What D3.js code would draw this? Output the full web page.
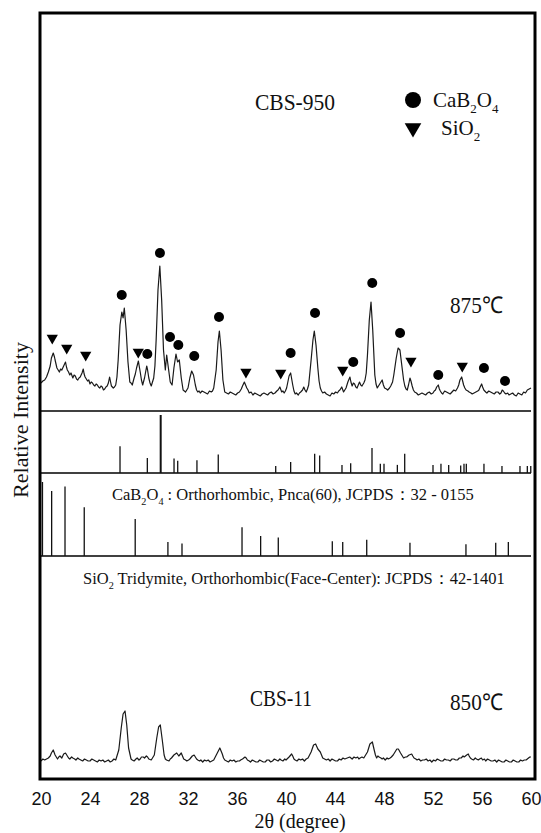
<!DOCTYPE html>
<html>
<head>
<meta charset="utf-8">
<script src="https://cdnjs.cloudflare.com/ajax/libs/d3/7.8.5/d3.min.js"></script>
<style>
  body { margin: 0; background: #fff; }
  text { fill: #111; }
  .serif { font-family: "Liberation Serif", "Times New Roman", serif; }
  .sans { font-family: "Liberation Sans", Arial, sans-serif; }
</style>
</head>
<body>
<div id="chart"></div>
<script>
// x axis ticks (2 theta, degree)
const xTicks = [20, 24, 28, 32, 36, 40, 44, 48, 52, 56, 60];

// CBS-950 fired at 875 C, [2theta, counts]
const trace875 = [
  [20.0,170],[20.15,190],[20.3,200],[20.45,230],[20.6,280],[20.75,340],[20.85,420],[21.0,470],[21.1,430],[21.15,400],[21.3,320],[21.4,300],[21.5,280],[21.6,310],[21.7,300],[21.85,340],
  [22.0,380],[22.08,330],[22.15,300],[22.25,280],[22.35,250],[22.45,270],[22.6,220],[22.7,250],[22.8,240],[22.9,210],[23.0,200],[23.1,220],[23.2,230],[23.35,270],[23.45,310],[23.52,260],[23.6,230],[23.7,210],[23.8,190],
  [23.9,200],[24.0,160],[24.1,180],[24.2,170],[24.3,150],[24.4,140],[24.5,160],[24.6,150],[24.7,130],[24.8,120],[24.9,140],[25.0,130],[25.1,100],[25.2,110],[25.3,130],[25.4,140],[25.5,170],[25.6,230],[25.68,180],[25.75,140],
  [25.9,120],[26.0,130],[26.1,150],[26.2,230],[26.3,400],[26.45,750],[26.6,880],[26.7,820],[26.8,920],[26.95,700],[27.1,380],[27.25,180],
  [27.35,170],[27.45,150],[27.6,220],[27.7,260],[27.8,320],[27.95,390],[28.03,330],[28.1,280],[28.2,200],[28.3,150],[28.45,220],[28.63,340],[28.7,300],[28.8,220],[28.9,170],[29.0,140],
  [29.2,220],[29.3,340],[29.4,600],[29.55,1100],[29.7,1340],[29.85,1000],[30.0,500],[30.15,300],[30.26,450],[30.4,320],[30.55,180],
  [30.7,150],[30.85,320],[31.02,460],[31.15,380],[31.29,400],[31.45,220],[31.6,100],[31.7,90],[31.8,80],[31.9,100],[32.0,120],[32.15,220],
  [32.3,290],[32.45,250],[32.6,150],[32.7,100],[32.8,80],[32.9,90],[33.0,70],[33.15,90],[33.3,80],[33.45,70],[33.6,60],[33.75,90],[33.9,80],[34.0,90],[34.1,120],[34.3,300],
  [34.45,580],[34.56,690],[34.7,500],[34.85,200],[35.0,80],[35.15,70],[35.3,60],[35.45,80],[35.6,70],[35.75,60],[35.9,50],[36.05,70],[36.2,80],[36.35,110],[36.45,140],
  [36.6,180],[36.7,150],[36.8,120],[36.9,100],[37.0,70],[37.15,80],[37.3,50],[37.45,70],[37.6,60],[37.75,50],[37.9,40],[38.05,60],[38.2,70],[38.35,60],[38.5,50],[38.65,70],[38.8,80],[38.95,60],[39.1,70],
  [39.25,90],[39.35,100],[39.5,130],[39.65,80],[39.75,90],[39.85,70],[39.95,90],[40.05,120],[40.25,240],[40.38,270],[40.55,150],[40.65,90],[40.75,60],[40.85,70],[41.0,50],
  [41.1,70],[41.2,80],[41.35,100],[41.45,130],[41.55,100],[41.65,80],[41.75,110],[41.85,150],[42.05,400],[42.2,600],[42.31,690],[42.45,550],[42.6,320],[42.7,190],[42.8,120],
  [42.9,90],[43.0,70],[43.15,80],[43.3,60],[43.45,50],[43.6,40],[43.75,70],[43.9,60],[44.05,80],[44.2,70],[44.3,90],[44.4,100],[44.55,130],[44.7,80],[44.8,100],[44.9,120],[45.05,180],
  [45.22,230],[45.3,180],[45.4,140],[45.5,170],[45.6,160],[45.7,130],[45.8,120],[45.9,150],[46.0,180],[46.1,150],[46.2,140],[46.35,170],[46.45,200],[46.55,270],[46.65,450],[46.8,800],[46.94,980],
  [47.08,700],[47.25,250],[47.35,160],[47.45,120],[47.55,140],[47.65,160],[47.75,180],[47.85,200],[47.95,150],[48.05,120],[48.2,110],[48.3,100],[48.45,120],[48.55,140],[48.7,180],[48.8,250],[49.0,420],
  [49.15,520],[49.3,500],[49.5,300],[49.6,200],[49.7,140],[49.8,110],[49.9,100],[50.0,150],[50.12,220],[50.2,190],[50.3,140],[50.4,100],[50.5,80],[50.65,70],[50.8,50],[50.95,60],[51.1,70],
  [51.25,60],[51.4,50],[51.55,70],[51.7,80],[51.85,60],[52.0,70],[52.1,90],[52.2,100],[52.3,130],[52.43,150],[52.52,110],[52.6,90],[52.7,70],[52.8,60],[52.95,90],[53.1,80],[53.25,70],[53.4,60],[53.55,80],[53.7,100],
  [53.85,90],[54.0,120],[54.1,150],[54.2,200],[54.34,230],[54.42,190],[54.5,150],[54.6,120],[54.7,100],[54.85,90],[54.95,80],[55.1,70],[55.2,60],[55.35,70],[55.5,80],[55.65,90],[55.75,100],[55.85,130],[55.97,160],
  [56.05,130],[56.15,100],[56.3,80],[56.4,70],[56.55,90],[56.7,80],[56.85,70],[57.0,60],[57.15,80],[57.3,80],[57.45,60],[57.55,70],[57.65,100],[57.74,90],[57.85,70],[57.95,60],[58.1,70],[58.2,50],[58.35,60],[58.5,70],
  [58.65,50],[58.8,40],[58.95,70],[59.1,60],[59.25,50],[59.4,80],[59.55,70],[59.7,100],[59.85,110],[60.0,120]
];

// phase markers on the 875 C pattern, [2theta, counts]
const cabMarks = [
  [26.59,1050],[28.68,460],[29.71,1470],[30.53,630],[31.21,550],[32.51,440],[34.53,830],[40.38,470],
  [42.37,870],[45.49,380],[47.04,1170],[49.31,670],[52.43,250],[56.16,320],[57.88,190]
];
const sioMarks = [
  [20.92,620],[22.10,520],[23.65,450],[27.94,480],[36.73,280],[39.57,270],[44.63,300],[50.20,390],[54.39,340]
];

// JCPDS 32-0155 CaB2O4 reference lines
const cabPos = [26.45,28.68,29.77,30.86,31.16,32.73,34.47,39.16,40.38,42.34,42.75,44.57,45.28,47.02,47.70,
  48.0,49.09,49.69,52.0,52.65,53.28,54.26,54.53,54.72,56.16,57.63,59.10,59.70,59.98];
const cabInt = [46,26,100,25,21,22,32,12,19,33,30,14,17,43,16,16,14,33,14,16,14,13,16,16,16,12,12,12,12];

// JCPDS 42-1401 SiO2 tridymite reference lines
const sioPos = [20.12,20.87,21.96,23.53,27.69,30.36,31.51,36.41,37.93,39.37,43.78,44.63,46.59,50.12,54.69,57.12,58.15];
const sioInt = [100,88,94,66,50,19,17,39,27,25,20,19,22,18,16,18,19];

// CBS-11 fired at 850 C, [2theta, counts]
const trace850 = [
  [20.0,40],[20.15,60],[20.3,50],[20.45,60],[20.6,70],[20.75,90],[20.85,120],[21.0,150],[21.15,100],[21.25,80],[21.35,60],[21.45,80],[21.55,90],[21.7,70],[21.85,110],
  [22.0,120],[22.15,90],[22.25,70],[22.35,60],[22.5,80],[22.6,70],[22.75,60],[22.85,50],[23.0,70],[23.1,60],[23.25,50],[23.4,40],[23.55,60],[23.7,50],[23.85,40],[24.0,40],[24.15,60],[24.3,50],
  [24.45,40],[24.6,30],[24.75,50],[24.9,40],[25.05,50],[25.2,30],[25.35,40],[25.5,50],[25.65,30],[25.8,40],[25.95,60],[26.1,50],[26.35,150],[26.55,370],[26.7,510],[26.86,540],
  [27.0,400],[27.15,170],[27.35,60],[27.45,50],[27.6,40],[27.75,60],[27.85,70],[28.0,50],[28.1,60],[28.2,80],[28.35,80],[28.45,70],[28.6,90],[28.7,80],[28.8,60],[29.0,50],
  [29.1,70],[29.25,100],[29.45,270],[29.6,380],[29.74,400],[29.9,250],[30.05,100],[30.15,60],[30.25,50],[30.45,40],[30.55,60],[30.65,70],[30.85,100],
  [31.08,120],[31.25,90],[31.45,120],[31.55,90],[31.65,60],[31.8,50],[31.9,40],[32.05,50],[32.15,60],[32.35,90],[32.5,100],[32.6,80],[32.7,60],[32.8,50],[32.95,40],
  [33.05,50],[33.2,30],[33.35,50],[33.5,40],[33.65,50],[33.8,30],[33.95,40],[34.1,50],[34.35,110],[34.6,170],[34.8,110],[34.9,70],[35.0,50],[35.15,40],[35.3,30],[35.45,50],[35.6,40],
  [35.75,50],[35.9,30],[36.05,40],[36.2,40],[36.3,50],[36.45,60],[36.65,80],[36.75,70],[36.85,50],[37.0,40],[37.1,30],[37.25,50],[37.4,40],[37.55,30],[37.7,30],[37.85,50],[38.0,40],[38.15,30],[38.3,30],
  [38.45,50],[38.6,50],[38.75,30],[38.9,40],[39.05,60],[39.2,50],[39.35,40],[39.5,60],[39.6,50],[39.75,40],[39.9,60],[40.0,50],[40.25,80],[40.46,110],[40.55,90],[40.65,60],[40.75,50],[40.9,40],
  [41.05,60],[41.2,50],[41.35,60],[41.5,40],[41.65,60],[41.8,70],[42.05,130],[42.25,200],[42.42,210],[42.6,160],[42.8,130],[42.9,100],[43.0,70],[43.15,60],[43.3,50],
  [43.45,60],[43.6,40],[43.75,60],[43.9,50],[44.05,40],[44.2,40],[44.35,60],[44.5,50],[44.65,70],[44.8,60],[45.0,70],[45.2,80],[45.3,70],[45.4,60],[45.55,80],[45.7,70],[45.85,80],[45.95,60],
  [46.05,70],[46.2,80],[46.35,70],[46.45,90],[46.65,130],[46.85,210],[47.05,230],[47.2,150],[47.3,100],[47.4,70],[47.5,90],[47.6,80],[47.75,70],[47.85,60],[47.95,70],[48.1,50],
  [48.25,70],[48.35,60],[48.5,70],[48.6,80],[48.75,100],[48.85,120],[49.05,160],[49.17,160],[49.35,120],[49.5,90],[49.6,70],[49.75,80],[49.85,80],[50.05,100],[50.26,110],
  [50.35,90],[50.45,70],[50.6,60],[50.7,50],[50.85,60],[51.0,40],[51.15,50],[51.3,50],[51.45,60],[51.6,40],[51.75,50],[51.9,30],[52.05,50],[52.2,40],[52.35,60],[52.5,50],[52.65,40],[52.8,40],[52.95,60],[53.1,50],
  [53.25,50],[53.4,40],[53.55,60],[53.7,60],[53.85,50],[54.0,50],[54.15,70],[54.3,70],[54.45,90],[54.55,80],[54.75,100],[54.88,110],[54.95,90],[55.05,70],[55.15,60],[55.3,50],[55.45,70],[55.55,60],
  [55.7,50],[55.8,60],[55.95,70],[56.05,50],[56.2,60],[56.3,40],[56.45,60],[56.6,50],[56.75,40],[56.9,40],[57.05,50],[57.2,30],[57.35,50],[57.5,40],[57.65,30],[57.8,30],[57.95,50],[58.1,40],[58.25,30],[58.4,30],
  [58.55,50],[58.7,40],[58.85,30],[59.0,30],[59.15,50],[59.3,40],[59.45,50],[59.6,50],[59.7,60],[59.8,70],[59.9,80],[60.0,80]
];

const width = 541,
  height = 833;

const svg = d3.select('#chart')
  .append('svg')
  .attr('width', width)
  .attr('height', height);

const x = d3.scaleLinear().domain([20, 60]).range([41, 531]);

// one vertical scale per stacked panel
const y875 = d3.scaleLinear().domain([0, 1500]).range([400, 250]);
const yCab = d3.scaleLinear().domain([0, 100]).range([473, 415]);
const ySio = d3.scaleLinear().domain([0, 100]).range([556, 482]);
const y850 = d3.scaleLinear().domain([0, 600]).range([765, 705]);

const line875 = d3.line().x(d => x(d[0])).y(d => y875(d[1]));
const line850 = d3.line().x(d => x(d[0])).y(d => y850(d[1]));

//Patterns
svg.append('path')
  .datum(trace875)
  .attr('d', line875)
  .attr('fill', 'none')
  .attr('stroke', '#1a1a1a')
  .attr('stroke-width', 1.2)
  .attr('stroke-linejoin', 'round');

svg.append('path')
  .datum(trace850)
  .attr('d', line850)
  .attr('fill', 'none')
  .attr('stroke', '#1a1a1a')
  .attr('stroke-width', 1.2)
  .attr('stroke-linejoin', 'round');

//Markers
svg.selectAll('.cabMark')
  .data(cabMarks)
  .enter().append('circle')
  .attr('class', 'cabMark')
  .attr('cx', d => x(d[0]))
  .attr('cy', d => y875(d[1]))
  .attr('r', 5)
  .style('fill', '#000');

const tri = d3.symbol().type(d3.symbolTriangle).size(55);
svg.selectAll('.sioMark')
  .data(sioMarks)
  .enter().append('path')
  .attr('class', 'sioMark')
  .attr('d', tri)
  .attr('transform', d => 'translate(' + x(d[0]) + ',' + y875(d[1]) + ') rotate(180)')
  .style('fill', '#000');

//Reference line panels
[yCab(107), yCab(0), ySio(0)].forEach(function (yy) {
  svg.append('line')
    .attr('x1', x(20)).attr('x2', x(60))
    .attr('y1', yy).attr('y2', yy)
    .attr('stroke', '#000').attr('stroke-width', 1.6);
});

svg.selectAll('.cabStick')
  .data(cabPos)
  .enter().append('line')
  .attr('class', 'cabStick')
  .attr('x1', d => x(d)).attr('x2', d => x(d))
  .attr('y1', yCab(0))
  .attr('y2', (d, i) => yCab(cabInt[i]))
  .attr('stroke', '#111')
  .attr('stroke-width', (d, i) => cabInt[i] > 90 ? 2 : 1.3);

svg.selectAll('.sioStick')
  .data(sioPos)
  .enter().append('line')
  .attr('class', 'sioStick')
  .attr('x1', d => x(d)).attr('x2', d => x(d))
  .attr('y1', ySio(0))
  .attr('y2', (d, i) => ySio(sioInt[i]))
  .attr('stroke', '#111')
  .attr('stroke-width', 1.3);

//Frame
svg.append('rect')
  .attr('x', 40).attr('y', 13)
  .attr('width', 495).attr('height', 766)
  .attr('fill', 'none')
  .attr('stroke', '#000')
  .attr('stroke-width', 3);

//x axis, labels only
const xAxis = svg.append('g')
  .attr('transform', 'translate(0,' + 786 + ')')
  .call(d3.axisBottom(x).tickValues(xTicks).tickSize(0).tickPadding(0).tickFormat(d3.format('d')));
xAxis.select('.domain').remove();
xAxis.selectAll('text')
  .attr('class', 'sans')
  .attr('dy', '1.05em')
  .style('font-size', '18px')
  .style('fill', '#111');

//Axis titles
svg.append('text')
  .attr('class', 'serif')
  .attr('x', 300).attr('y', 828)
  .attr('text-anchor', 'middle')
  .style('font-size', '20px')
  .text('2θ (degree)');

svg.append('text')
  .attr('class', 'serif')
  .attr('transform', 'translate(28,420) rotate(-90)')
  .attr('text-anchor', 'middle')
  .style('font-size', '22px')
  .text('Relative Intensity');

//Sample labels
function label(txt, xx, yy, len) {
  svg.append('text')
    .attr('class', 'serif')
    .attr('x', xx).attr('y', yy)
    .attr('textLength', len)
    .attr('lengthAdjust', 'spacingAndGlyphs')
    .style('font-size', '23px')
    .text(txt);
}
label('CBS-950', 255, 110, 80);
label('875\u2103', 450, 313, 53);
label('CBS-11', 250, 706, 62);
label('850\u2103', 450, 710, 53);

//Legend
svg.append('circle')
  .attr('cx', 413).attr('cy', 100).attr('r', 8)
  .style('fill', '#000');
svg.append('path')
  .attr('d', d3.symbol().type(d3.symbolTriangle).size(120))
  .attr('transform', 'translate(413,128) rotate(180)')
  .style('fill', '#000');

//Chemical formulas with subscripts
function formula(parts, xx, yy, size) {
  const t = svg.append('text')
    .attr('class', 'serif')
    .attr('x', xx).attr('y', yy)
    .style('font-size', size + 'px');
  const off = size * 0.3;
  let shifted = false;
  parts.forEach(function (p) {
    if (p.sub) {
      t.append('tspan')
        .attr('dy', shifted ? 0 : off)
        .style('font-size', (size * 0.62) + 'px')
        .text(p.sub);
      shifted = true;
    } else {
      t.append('tspan')
        .attr('dy', shifted ? -off : 0)
        .text(p.t);
      shifted = false;
    }
  });
  return t;
}
formula([{t: 'CaB'}, {sub: '2'}, {t: 'O'}, {sub: '4'}], 433, 107, 21);
formula([{t: 'SiO'}, {sub: '2'}], 441, 135, 21);

formula([{t: 'CaB'}, {sub: '2'}, {t: 'O'}, {sub: '4'},
  {t: ' : Orthorhombic, Pnca(60), JCPDS\uff1a32 - 0155'}], 112, 500, 16.5);
formula([{t: 'SiO'}, {sub: '2'},
  {t: ' Tridymite, Orthorhombic(Face-Center): JCPDS\uff1a42-1401'}], 83, 584, 16.5);
</script>
</body>
</html>
